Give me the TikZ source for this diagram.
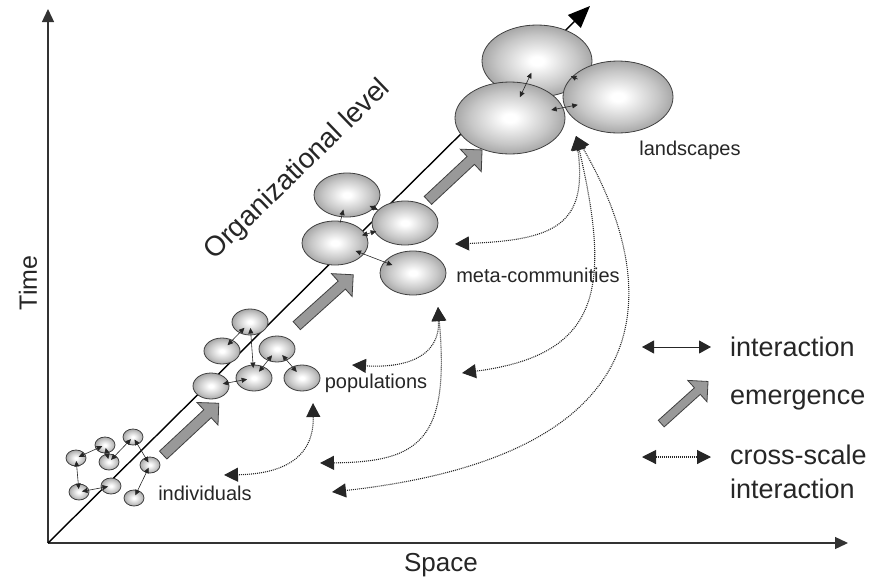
\documentclass[tikz,border=0pt]{standalone}
\usepackage{fontspec}
\setmainfont{Liberation Sans}
\usetikzlibrary{arrows.meta,shapes.geometric,shapes.arrows}
\pgfdeclareradialshading{blobshade}{\pgfpointorigin}{color(0bp)=(white); color(3bp)=(white); color(18bp)=(black!22); color(35bp)=(black!52); color(50bp)=(black!52)}

\begin{document}
\begin{tikzpicture}[x=1pt,y=-1pt,
    blob/.style={ellipse,draw=black!75,line width=0.8pt,shading=blobshade,inner sep=0pt},
    iblob/.style={blob,minimum width=20pt,minimum height=16pt},
    pblob/.style={blob,minimum width=36pt,minimum height=26pt},
    mblob/.style={blob,minimum width=66pt,minimum height=44pt},
    lblob/.style={blob,minimum width=110pt,minimum height=72pt},
    axisline/.style={line width=1.3pt,black!80,-{Triangle[length=13pt,width=12pt]}},
    inter/.style={line width=0.6pt,black!85,{Triangle[length=5.5pt,width=5pt]}-{Triangle[length=5.5pt,width=5pt]}},
    crossarr/.style={line width=1.1pt,black!85,dash pattern=on 1pt off 1pt,{Triangle[length=14pt,width=14pt]}-{Triangle[length=14pt,width=14pt]}},
    emerge/.style={single arrow,draw=black!75,line width=0.8pt,fill=black!40,minimum width=0pt,inner xsep=0pt,inner ysep=5pt,single arrow head extend=10pt},
    lbl/.style={font=\fontsize{20}{24}\selectfont,text=black!85,inner sep=0pt},
    legtext/.style={font=\fontsize{27}{30}\selectfont,text=black!85,anchor=west,inner sep=0pt}]
  \useasboundingbox (0,0) rectangle (878,581);

  \coordinate (O) at (48,543);
  \coordinate (tmax) at (48,9);
  \coordinate (smax) at (848,543);
  \coordinate (lmax) at (590,6);
  \draw[axisline] (O) -- (tmax);
  \draw[axisline] (O) -- (smax);
  \draw[line width=1.4pt,-{Triangle[length=22pt,width=18pt]}] (O) -- (lmax);
  \node[rotate=90,font=\fontsize{25}{28}\selectfont,text=black!85] (timelabel) at (28,283) {Time};
  \node[font=\fontsize{26}{28}\selectfont,text=black!85] (spacelabel) at (441,565) {Space};
  \node[rotate=44,font=\fontsize{28}{30}\selectfont,text=black!85] (orglabel) at (298,170) {Organizational level};

  \node[emerge,rotate=43,minimum height=76pt] (up1) at (189,431) {};
  \node[emerge,rotate=42,minimum height=76pt] (up2) at (323,302) {};
  \node[emerge,rotate=43,minimum height=74pt] (up3) at (453,177) {};

  \node[iblob] (i1) at (105,445) {};
  \node[iblob] (i2) at (133,437) {};
  \node[iblob] (i3) at (76,458) {};
  \node[iblob] (i4) at (109,462) {};
  \node[iblob] (i5) at (150,465) {};
  \node[iblob] (i6) at (79,492) {};
  \node[iblob] (i7) at (111,486) {};
  \node[iblob] (i8) at (134,498) {};
  \draw[inter,shorten <=3pt,shorten >=3pt] (i1.center) -- (i3.center);
  \draw[inter,shorten <=3pt,shorten >=3pt] (i1.center) -- (i4.center);
  \draw[inter,shorten <=3pt,shorten >=3pt] (i2.center) -- (i4.center);
  \draw[inter,shorten <=3pt,shorten >=3pt] (i2.center) -- (i5.center);
  \draw[inter,shorten <=3pt,shorten >=3pt] (i3.center) -- (i6.center);
  \draw[inter,shorten <=3pt,shorten >=3pt] (i6.center) -- (i7.center);
  \draw[inter,shorten <=3pt,shorten >=3pt] (i5.center) -- (i8.center);
  \node[lbl] (indlabel) at (205,493) {individuals};

  \node[pblob] (p1) at (250,322) {};
  \node[pblob] (p2) at (222,351) {};
  \node[pblob] (p3) at (277,349) {};
  \node[pblob] (p4) at (211,386) {};
  \node[pblob] (p5) at (254,378) {};
  \node[pblob] (p6) at (302,378) {};
  \draw[inter,shorten <=8pt,shorten >=8pt] (p1.center) -- (p2.center);
  \draw[inter,shorten <=6pt,shorten >=10pt] (p1.center) -- (p5.center);
  \draw[inter,shorten <=8pt,shorten >=8pt] (p3.center) -- (p5.center);
  \draw[inter,shorten <=8pt,shorten >=8pt] (p3.center) -- (p6.center);
  \draw[inter,shorten <=12pt,shorten >=7pt] (p4.center) -- (p5.center);
  \node[lbl] (poplabel) at (376,383) {populations};

  \node[mblob] (m1) at (347,195) {};
  \node[mblob] (m2) at (405,223) {};
  \node[mblob] (m3) at (335,243) {};
  \node[mblob] (m4) at (413,273) {};
  \draw[inter,-{Triangle[length=5.5pt,width=5pt]},shorten <=21pt,shorten >=15pt] (m3.center) -- (m1.center);
  \draw[inter,shorten <=25pt,shorten >=30pt] (m1.center) -- (m2.center);
  \draw[inter,shorten <=30pt,shorten >=28pt] (m2.center) -- (m3.center);
  \draw[inter,shorten <=22pt,shorten >=22pt] (m3.center) -- (m4.center);
  \node[lbl] (metalabel) at (538,275) {meta-communities};

  \node[lblob] (L1) at (537,61) {};
  \node[lblob] (L2) at (618,97) {};
  \node[lblob] (L3) at (510,118) {};
  \draw[inter,shorten <=23pt,shorten >=13pt] (L3.center) -- (L1.center);
  \draw[inter,-{Triangle[length=5.5pt,width=5pt]},shorten <=44pt,shorten >=37pt] (L2.center) -- (L1.center);
  \draw[inter,shorten <=42pt,shorten >=41pt] (L3.center) -- (L2.center);
  \node[lbl] (landlabel) at (690,150) {landscapes};

  \coordinate (popTop) at (313,403);
  \coordinate (indL) at (224,475);
  \coordinate (metaTop) at (438,307);
  \coordinate (popL) at (352,365);
  \coordinate (indR1) at (320,463);
  \coordinate (landTop) at (576,136);
  \coordinate (metaR) at (455,244);
  \coordinate (popR) at (462,373);
  \coordinate (indR2) at (332,492);
  \draw[crossarr] (popTop) .. controls (314,460) and (280,474) .. (indL);
  \draw[crossarr] (metaTop) .. controls (440,360) and (400,368) .. (popL);
  \draw[crossarr] (metaTop) .. controls (450,440) and (420,462) .. (indR1);
  \draw[crossarr] (landTop) .. controls (588,225) and (555,240) .. (metaR);
  \draw[crossarr] (landTop) .. controls (612,290) and (600,355) .. (popR);
  \draw[crossarr] (landTop) .. controls (665,290) and (665,455) .. (indR2);

  \coordinate (ka) at (642,347);
  \coordinate (kb) at (711,347);
  \coordinate (kc) at (642,457);
  \coordinate (kd) at (711,457);
  \draw[line width=1pt,black!85,{Triangle[length=12pt,width=13pt]}-{Triangle[length=12pt,width=13pt]}] (ka) -- (kb);
  \node[emerge,rotate=42,minimum height=63pt,inner ysep=4pt] (upkey) at (683,404) {};
  \draw[crossarr] (kc) -- (kd);
  \node[legtext] (keyinter) at (730,347) {interaction};
  \node[legtext] (keyemerge) at (730,400) {emergence};
  \node[legtext] (keycross) at (730,455) {cross-scale};
  \node[legtext] (keycross2) at (730,489) {interaction};
\end{tikzpicture}
\end{document}
